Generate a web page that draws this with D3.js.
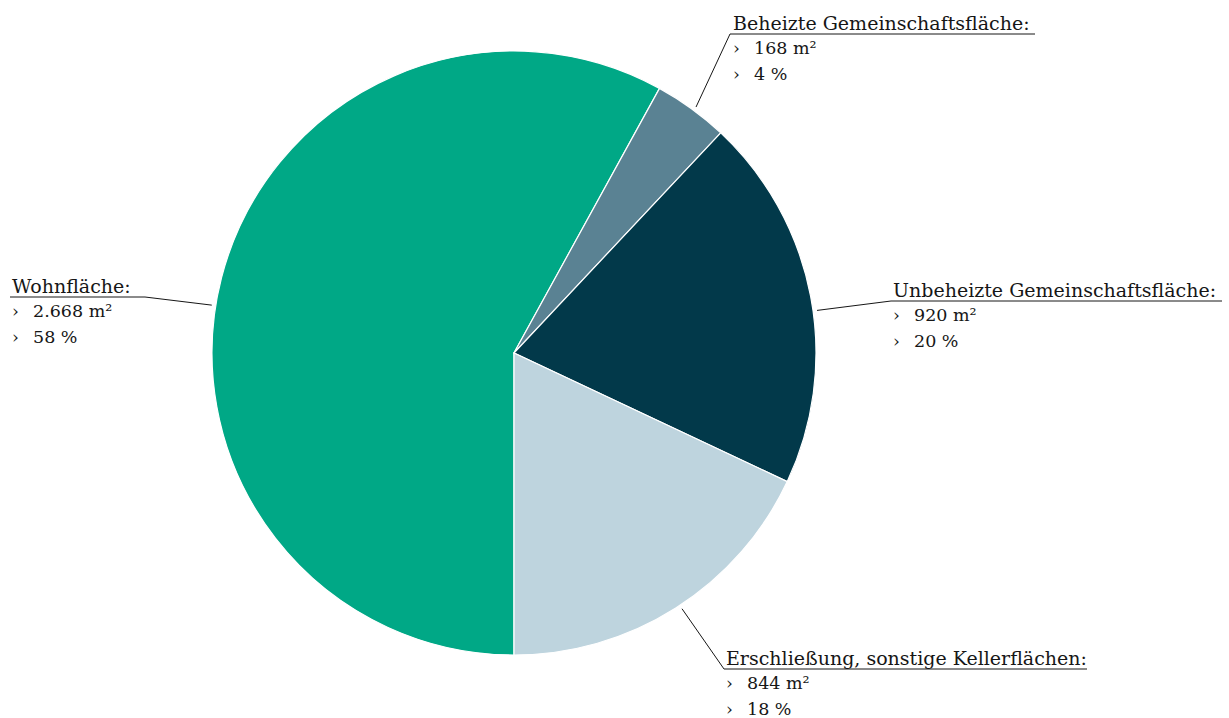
<html>
<head>
<meta charset="UTF-8">
<title>Flächenaufteilung</title>
<script src="https://d3js.org/d3.v7.min.js"></script>
<style>
body { margin: 0; background: white; }
text { font-family: "DejaVu Serif", serif; fill: #161616; }
</style>
</head>
<body>
<svg width="1229" height="718"></svg>
<script>
// data
var categories = ["Wohnfläche:", "Beheizte Gemeinschaftsfläche:", "Unbeheizte Gemeinschaftsfläche:", "Erschließung, sonstige Kellerflächen:"];
var percents = [58, 4, 20, 18];
var areaLabels = ["2.668 m²", "168 m²", "920 m²", "844 m²"];
var percentLabels = ["58 %", "4 %", "20 %", "18 %"];
var colors = ["#00a886", "#5a8293", "#02394a", "#bed4de"];

// label placement (title position, leader angle in degrees)
var labelPos = [
  {x: 12, y: 293, lineX0: 10, lineX1: 145, anchorAngle: 279, side: "left"},
  {x: 733, y: 30, lineX0: 730, lineX1: 1035, anchorAngle: 36.5, side: "right"},
  {x: 893, y: 297, lineX0: 891, lineX1: 1222, anchorAngle: 82, side: "right"},
  {x: 726, y: 665, lineX0: 724, lineX1: 1087, anchorAngle: 146.7, side: "right"}
];

var cx = 514, cy = 353, R = 302;
var svg = d3.select("svg");

// pie starts at 6 o'clock, going clockwise
var pie = d3.pie().sort(null).value(function(d) { return d; })
  .startAngle(Math.PI).endAngle(3 * Math.PI);
var arc = d3.arc().innerRadius(0).outerRadius(R);

var g = svg.append("g").attr("transform", "translate(" + cx + "," + cy + ")");
g.selectAll("path").data(pie(percents)).enter().append("path")
  .attr("d", arc)
  .style("fill", function(d, i) { return colors[i]; })
  .style("stroke", "white")
  .style("stroke-width", 1.2);

// labels
categories.forEach(function(c, i) {
  var p = labelPos[i];
  var a = p.anchorAngle * Math.PI / 180;
  var ax = cx + (R + 4) * Math.sin(a);
  var ay = cy - (R + 4) * Math.cos(a);
  var uy = p.y + 4;
  var lg = svg.append("g");
  // leader + underline
  var pts = p.side == "left"
    ? [[p.lineX0, uy], [p.lineX1, uy], [ax, ay]]
    : [[ax, ay], [p.lineX0, uy], [p.lineX1, uy]];
  lg.append("path")
    .attr("d", d3.line()(pts))
    .style("fill", "none")
    .style("stroke", "#161616")
    .style("stroke-width", 1);
  lg.append("text").attr("x", p.x).attr("y", p.y)
    .style("font-size", "19px").text(c);
  [areaLabels[i], percentLabels[i]].forEach(function(t, j) {
    var yy = p.y + 24 + j * 25.5;
    lg.append("text").attr("x", p.x).attr("y", yy)
      .style("font-size", "17px").text("›");
    lg.append("text").attr("x", p.x + 21).attr("y", yy)
      .style("font-size", "17.5px").text(t);
  });
});
</script>
</body>
</html>
